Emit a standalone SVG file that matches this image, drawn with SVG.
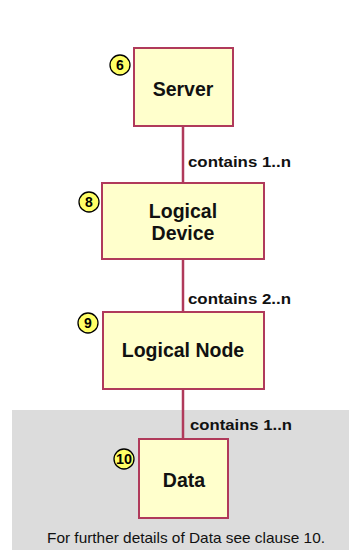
<svg xmlns="http://www.w3.org/2000/svg" width="349" height="550" viewBox="0 0 349 550">
  <style>
    .box { fill: #FFFFCC; stroke: #B03A5B; stroke-width: 2; }
    .link { stroke: #B03A5B; stroke-width: 2.5; fill: none; }
    .badge { fill: #FFFF66; stroke: #000; stroke-width: 1.3; }
    .num { font-family: "Liberation Sans", Arial, sans-serif; font-weight: bold; font-size: 14px; fill: #000; text-anchor: middle; }
    .label { font-family: "Liberation Sans", Arial, sans-serif; font-weight: bold; font-size: 19.5px; fill: #111; text-anchor: middle; }
    .rel { font-family: "Liberation Sans", Arial, sans-serif; font-weight: bold; font-size: 15px; fill: #111; }
    .note { font-family: "Liberation Sans", Arial, sans-serif; font-size: 14.5px; fill: #111; }
  </style>

  <rect x="0" y="0" width="349" height="550" fill="#FFFFFF"/>
  <!-- shaded band holding the Data class -->
  <rect x="12" y="410" width="337" height="140" fill="#DCDCDC"/>

  <g id="connectors">
    <line class="link" x1="183" y1="126" x2="183" y2="183"/>
    <line class="link" x1="183" y1="259" x2="183" y2="312"/>
    <line class="link" x1="183" y1="389" x2="183" y2="439"/>
    <text class="rel" x="188" y="167" textLength="103" lengthAdjust="spacingAndGlyphs">contains 1..n</text>
    <text class="rel" x="188" y="304" textLength="103" lengthAdjust="spacingAndGlyphs">contains 2..n</text>
    <text class="rel" x="190" y="430" textLength="102" lengthAdjust="spacingAndGlyphs">contains 1..n</text>
  </g>

  <g id="server">
    <rect class="box" x="134" y="48" width="99" height="78"/>
    <text class="label" x="183" y="96">Server</text>
    <circle class="badge" cx="120" cy="65" r="10"/>
    <text class="num" x="120" y="70">6</text>
  </g>

  <g id="logical-device">
    <rect class="box" x="102" y="183" width="162" height="76"/>
    <text class="label" x="183" y="218">Logical</text>
    <text class="label" x="183" y="240">Device</text>
    <circle class="badge" cx="89" cy="202" r="10"/>
    <text class="num" x="89" y="207">8</text>
  </g>

  <g id="logical-node">
    <rect class="box" x="103" y="312" width="161" height="77"/>
    <text class="label" x="183" y="357">Logical Node</text>
    <circle class="badge" cx="88" cy="323" r="10"/>
    <text class="num" x="88" y="328">9</text>
  </g>

  <g id="data">
    <rect class="box" x="139" y="439" width="89" height="79"/>
    <text class="label" x="184" y="487">Data</text>
    <circle class="badge" cx="124" cy="459" r="10"/>
    <text class="num" x="124" y="464" textLength="16" lengthAdjust="spacingAndGlyphs">10</text>
  </g>

  <text class="note" x="47" y="543" textLength="278" lengthAdjust="spacingAndGlyphs">For further details of Data see clause 10.</text>
</svg>
